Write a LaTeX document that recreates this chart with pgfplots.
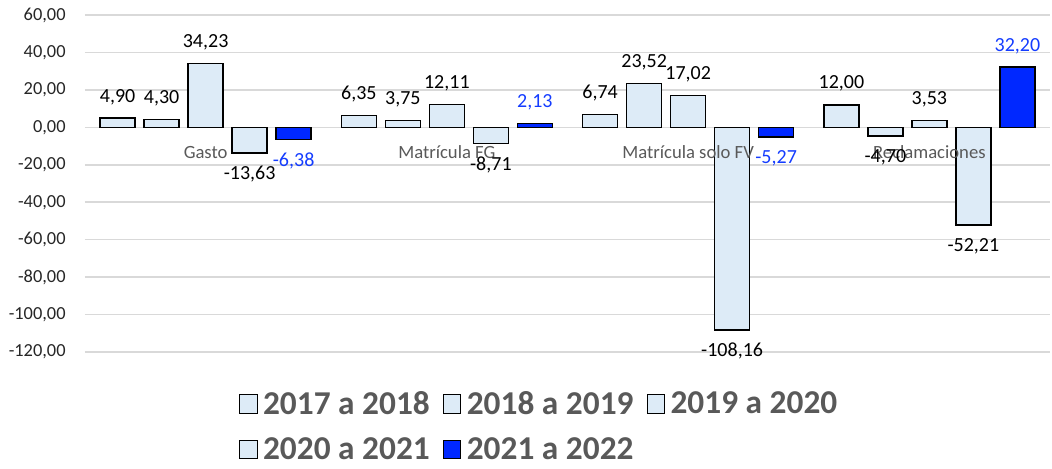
\documentclass[border=0pt]{standalone}
\usepackage{pgfplots}
\pgfplotsset{compat=1.18}
\usepackage{fontspec}
\setmainfont{Carlito}
\definecolor{lightbar}{RGB}{221,235,247}
\definecolor{bluebar}{RGB}{0,40,255}
\definecolor{bluetext}{RGB}{20,60,255}
\definecolor{gridgray}{RGB}{217,217,217}
\definecolor{textgray}{RGB}{89,89,89}
\pgfplotsset{
  mybar/.style={fill=#1, draw=black, line width=1.1pt,
    legend image code/.code={\draw[fill=#1, draw=black, line width=0.8pt] (0pt,-7pt) rectangle (13pt,7pt);}},
}
\begin{document}
\begin{tikzpicture}
\begin{axis}[
  scale only axis,
  width=723.75pt, height=252.75pt,
  xmin=-0.5, xmax=3.5,
  ymin=-120, ymax=60,
  ytick={-120,-100,...,60},
  xtick=\empty,
  ymajorgrids,
  grid style={gridgray, line width=1.1pt},
  axis line style={draw=none},
  major tick length=0pt,
  ybar=6.75pt,
  bar width=26.25pt,
  /pgf/number format/fixed,
  /pgf/number format/fixed zerofill,
  /pgf/number format/precision=2,
  /pgf/number format/use comma,
  /pgf/number format/1000 sep={},
  /pgf/number format/assume math mode=true,
  yticklabel style={font=\fontsize{13.8}{16}\selectfont, text=black!85, xshift=-11pt},
  nodes near coords,
  nodes near coords style={font=\fontsize{15}{18}\selectfont, text=black, inner ysep=9.5pt},
  legend style={at={(0.4725,-0.2205)}, anchor=center, draw=none, fill=none,
    font=\bfseries\fontsize{25}{28}\selectfont, text=textgray,
    nodes={inner xsep=4pt, inner ysep=0pt},
    row sep=16pt,
    /tikz/every even column/.append style={column sep=6pt}},
  legend columns=3,
]
\addplot[mybar=lightbar] coordinates {(0,4.90) (1,6.35) (2,6.74) (3,12.00)};
\addplot[mybar=lightbar] coordinates {(0,4.30) (1,3.75) (2,23.52) (3,-4.70)};
\addplot[mybar=lightbar] coordinates {(0,34.23) (1,12.11) (2,17.02) (3,3.53)};
\addplot[mybar=lightbar] coordinates {(0,-13.63) (1,-8.71) (2,-108.16) (3,-52.21)};
\addplot[mybar=bluebar, every node near coord/.append style={text=bluetext}] coordinates {(0,-6.38) (1,2.13) (2,-5.27) (3,32.20)};
\legend{2017 a 2018, 2018 a 2019, 2019 a 2020, 2020 a 2021, 2021 a 2022}
\node[font=\fontsize{14}{16}\selectfont, text=textgray] at (axis cs:0,-13.2) {Gasto};
\node[font=\fontsize{14}{16}\selectfont, text=textgray] at (axis cs:1,-13.2) {Matrícula FG};
\node[font=\fontsize{14}{16}\selectfont, text=textgray] at (axis cs:2,-13.2) {Matrícula solo FV};
\node[font=\fontsize{14}{16}\selectfont, text=textgray] at (axis cs:3,-13.2) {Reclamaciones};
\end{axis}
\pgfresetboundingbox
\path ([xshift=-63.75pt,yshift=-87pt]current axis.south west) rectangle ([xshift=1.5pt,yshift=11.25pt]current axis.north east);
\end{tikzpicture}
\end{document}
